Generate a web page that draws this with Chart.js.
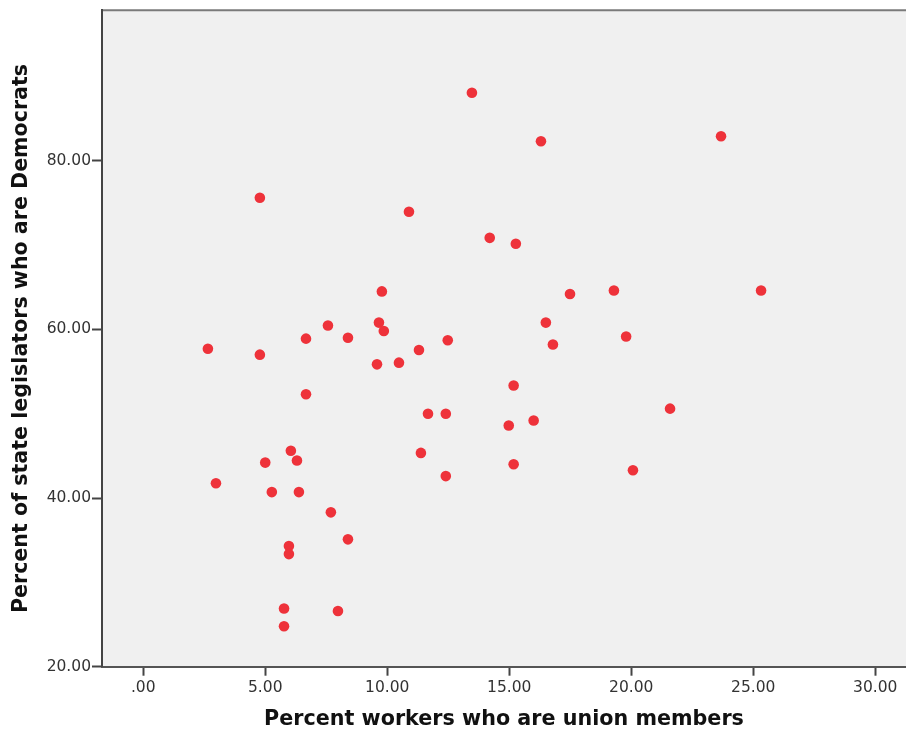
<!DOCTYPE html>
<html>
<head>
<meta charset="utf-8">
<script src="https://cdn.jsdelivr.net/npm/chart.js@4/dist/chart.umd.min.js"></script>
<style>
  html, body { margin: 0; padding: 0; background: #ffffff; }
  #wrap { width: 906px; height: 732px; }
</style>
</head>
<body>
<div id="wrap"><canvas id="c" width="906" height="732"></canvas></div>
<script>
// Percent workers who are union members
const unionPct = [2.65, 2.98, 4.78, 4.78, 5.0, 5.27, 6.05, 6.3, 6.38, 5.97, 5.97, 5.77, 5.77,
  6.67, 6.67, 7.57, 7.69, 7.98, 8.39, 8.39, 9.58, 9.66, 9.78, 9.86, 10.48, 10.89, 11.3, 11.38,
  11.67, 12.4, 12.48, 12.4, 13.47, 14.2, 15.27, 15.18, 14.98, 15.18, 16.0, 16.3, 16.5, 16.79,
  17.49, 19.29, 19.79, 20.07, 21.59, 23.68, 25.32];
// Percent of state legislators who are Democrats
const demPct = [57.7, 41.75, 75.6, 57.0, 44.2, 40.7, 45.6, 44.45, 40.7, 34.3, 33.35, 26.9, 24.8,
  58.9, 52.3, 60.45, 38.3, 26.6, 59.0, 35.1, 55.85, 60.8, 64.5, 59.8, 56.05, 73.95, 57.55, 45.35,
  50.0, 50.0, 58.7, 42.6, 88.05, 70.85, 70.15, 53.35, 48.6, 44.0, 49.2, 82.3, 60.8, 58.2,
  64.2, 64.6, 59.15, 43.3, 50.6, 82.9, 64.6];

const xTicks = [0, 5, 10, 15, 20, 25, 30];
const xTickLabels = ['.00', '5.00', '10.00', '15.00', '20.00', '25.00', '30.00'];
const yTicks = [20, 40, 60, 80];
const yTickLabels = ['20.00', '40.00', '60.00', '80.00'];

const xTitle = 'Percent workers who are union members';
const yTitle = 'Percent of state legislators who are Democrats';

const points = unionPct.map((x, i) => ({ x: x, y: demPct[i] }));

const plotBg = {
  id: 'plotBg',
  beforeDraw(chart) {
    const { ctx, chartArea: a } = chart;
    ctx.save();
    ctx.fillStyle = '#f0f0f0';
    ctx.fillRect(a.left, a.top, a.right - a.left, a.bottom - a.top);
    ctx.strokeStyle = '#7a7a7a';
    ctx.lineWidth = 2;
    ctx.beginPath();
    ctx.moveTo(a.left, a.top);
    ctx.lineTo(a.right, a.top);
    ctx.stroke();
    ctx.restore();
  }
};

new Chart(document.getElementById('c'), {
  type: 'scatter',
  data: {
    datasets: [{
      data: points,
      backgroundColor: 'rgb(238,50,58)',
      borderColor: 'rgb(238,50,58)',
      borderWidth: 0,
      pointRadius: 5.3,
      pointHoverRadius: 5.3
    }]
  },
  options: {
    responsive: false,
    animation: false,
    events: [],
    layout: { autoPadding: false, padding: { top: 9.5, right: 0, left: 0, bottom: 0 } },
    plugins: {
      legend: { display: false },
      tooltip: { enabled: false }
    },
    scales: {
      x: {
        type: 'linear',
        min: -1.69,
        max: 31.26,
        afterBuildTicks(scale) { scale.ticks = xTicks.map(v => ({ value: v })); },
        afterFit(scale) { scale.height = 65.3; },
        ticks: {
          autoSkip: false,
          maxRotation: 0,
          padding: 3,
          color: '#333333',
          font: { family: 'DejaVu Sans', size: 15.5 },
          callback(value) { const i = xTicks.indexOf(value); return i >= 0 ? xTickLabels[i] : ''; }
        },
        grid: {
          drawOnChartArea: false,
          drawTicks: true,
          tickLength: 9,
          tickWidth: 2,
          tickColor: '#444444'
        },
        border: { display: true, color: '#555555', width: 2 },
        title: {
          display: true,
          text: xTitle,
          color: '#111111',
          font: { family: 'DejaVu Sans', size: 20.7, weight: 'bold' },
          padding: { top: 0, bottom: 0 }
        }
      },
      y: {
        type: 'linear',
        min: 20,
        max: 97.83,
        afterBuildTicks(scale) { scale.ticks = yTicks.map(v => ({ value: v })); },
        afterFit(scale) { scale.width = 102; },
        ticks: {
          autoSkip: false,
          padding: 1,
          color: '#333333',
          font: { family: 'DejaVu Sans', size: 15.5 },
          callback(value) { const i = yTicks.indexOf(value); return i >= 0 ? yTickLabels[i] : ''; }
        },
        grid: {
          drawOnChartArea: false,
          drawTicks: true,
          tickLength: 10,
          tickWidth: 2,
          tickColor: '#444444'
        },
        border: { display: true, color: '#444444', width: 2 },
        title: {
          display: true,
          text: yTitle,
          color: '#111111',
          font: { family: 'DejaVu Sans', size: 20.6, weight: 'bold' },
          padding: { top: 9.5, bottom: 0 }
        }
      }
    }
  },
  plugins: [plotBg]
});
</script>
</body>
</html>
